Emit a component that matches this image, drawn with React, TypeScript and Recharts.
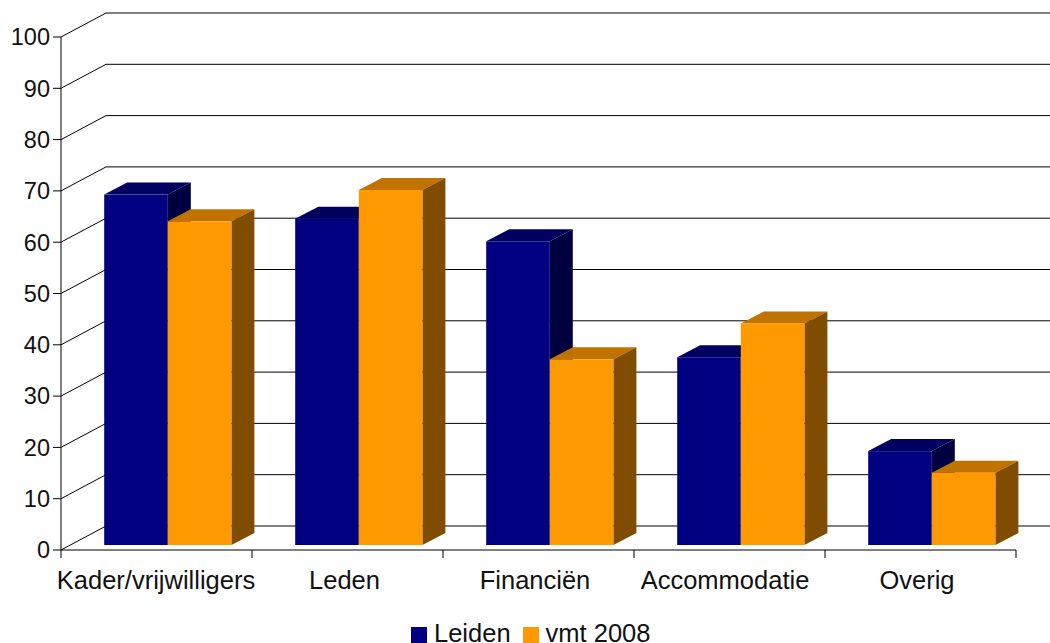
import { Bar, BarChart, CartesianGrid, Legend, XAxis, YAxis } from 'recharts';

const categories = ['Kader/vrijwilligers', 'Leden', 'Financiën', 'Accommodatie', 'Overig'];
const leiden = [68.3, 63.6, 59.2, 36.6, 18.3];
const vmt2008 = [63.1, 69.2, 36.2, 43.2, 14.1];
const yTicks = [0, 10, 20, 30, 40, 50, 60, 70, 80, 90, 100];

const chartData = categories.map((name, i) => ({ name, leiden: leiden[i], vmt2008: vmt2008[i] }));

const FONT = '"Liberation Sans", Arial, sans-serif';
const LINE = '#000';

// back wall is pushed back by this much
const WALL_X = 45;
const WALL_Y = 24;
// bars stand a bit inside the floor, and have this depth
const BAR_DX = 11.2;
const BAR_DY = -5;
const DEPTH_X = 23;
const DEPTH_Y = 12;
// the labels in the original are not quite centred under their band
const LABEL_NUDGE = [-0.5, -3, -3.5, -4.5, -3.5];

const makeBar = (front: string, top: string, side: string) => (props: any) => {
  const x = props.x + BAR_DX;
  const y = props.y + BAR_DY;
  const { width, height } = props;
  return (
    <g>
      <polygon
        points={`${x},${y} ${x + DEPTH_X},${y - DEPTH_Y} ${x + width + DEPTH_X},${y - DEPTH_Y} ${x + width},${y}`}
        fill={top}
      />
      <polygon
        points={`${x + width},${y} ${x + width + DEPTH_X},${y - DEPTH_Y} ${x + width + DEPTH_X},${y + height - DEPTH_Y} ${x + width},${y + height}`}
        fill={side}
      />
      <rect x={x} y={y} width={width} height={height} fill={front} />
    </g>
  );
};

const wallLine = (props: any) => {
  const { x1, y1, x2, key } = props;
  return (
    <polyline
      key={key}
      points={`${x1},${y1} ${x1 + WALL_X},${y1 - WALL_Y} ${x2 + 34},${y1 - WALL_Y}`}
      fill="none"
      stroke={LINE}
      strokeWidth={1}
    />
  );
};

const CategoryTick = (props: any) => {
  const { x, y, payload, index, width } = props;
  const band = width / categories.length;
  const left = x - band / 2;
  const axisY = y - 8;
  return (
    <g>
      <line x1={left} x2={left} y1={axisY} y2={axisY + 8} stroke={LINE} />
      {index === categories.length - 1 && (
        <line x1={left + band} x2={left + band} y1={axisY} y2={axisY + 8} stroke={LINE} />
      )}
      <text x={x + LABEL_NUDGE[index]} y={axisY + 39} textAnchor="middle" fontFamily={FONT} fontSize={25.5} fill="#111">
        {payload.value}
      </text>
    </g>
  );
};

const LegendRow = ({ payload }: any) => (
  <div style={{ display: 'flex', alignItems: 'center', fontFamily: FONT, fontSize: 25.5, color: '#111', lineHeight: '30px' }}>
    {payload.map((entry: any) => (
      <span key={entry.value} style={{ display: 'flex', alignItems: 'center', marginRight: 12 }}>
        <span style={{ width: 16, height: 16, background: entry.color, marginRight: 7, marginTop: 3 }} />
        {entry.value}
      </span>
    ))}
  </div>
);

export default function App() {
  return (
    <div style={{ position: 'absolute', left: 0, top: 0, width: 1050, height: 643, overflow: 'hidden', background: '#fff' }}>
      <BarChart
        width={1050}
        height={643}
        data={chartData}
        margin={{ top: 37, right: 34, bottom: 0, left: 0 }}
        barSize={63.6}
        barGap={0}
      >
        <CartesianGrid horizontal={wallLine} vertical={false} syncWithTicks />
        <XAxis
          dataKey="name"
          height={93}
          interval={0}
          tickLine={false}
          axisLine={{ stroke: LINE }}
          tick={<CategoryTick />}
        />
        <YAxis
          width={61}
          domain={[0, 100]}
          ticks={yTicks}
          interval={0}
          tickSize={8}
          tickMargin={3}
          axisLine={{ stroke: LINE }}
          tickLine={{ stroke: LINE }}
          tick={{ fontFamily: FONT, fontSize: 23.5, fill: '#111' }}
        />
        <Legend
          verticalAlign="middle"
          align="center"
          content={<LegendRow />}
          wrapperStyle={{ top: 618, left: 411, width: 400 }}
        />
        <Bar
          dataKey="leiden"
          name="Leiden"
          fill="#000080"
          isAnimationActive={false}
          shape={makeBar('#000080', '#000060', '#000040')}
        />
        <Bar
          dataKey="vmt2008"
          name="vmt 2008"
          fill="#ff9900"
          isAnimationActive={false}
          shape={makeBar('#ff9900', '#c07300', '#804d00')}
        />
      </BarChart>
    </div>
  );
}
